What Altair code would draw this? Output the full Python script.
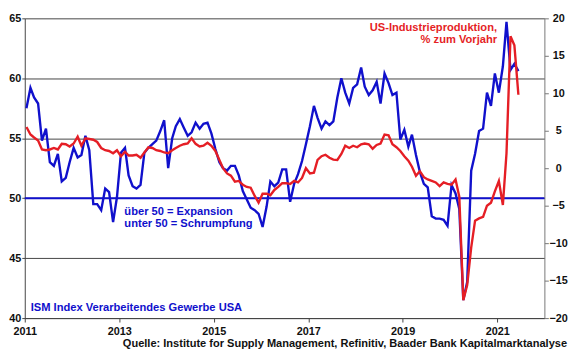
import altair as alt
import pandas as pd

# ISM Manufacturing PMI (left axis), monthly Jan 2011 - Jun 2021
ism_2011 = [57.5, 59.2, 58.4, 57.9, 54.8, 55.8, 53.0, 52.7, 53.7, 51.4, 51.7, 53.0]
ism_2012 = [54.2, 53.4, 53.6, 55.2, 54.0, 49.5, 49.5, 49.0, 50.8, 50.5, 48.0, 50.1]
ism_2013 = [53.8, 54.2, 51.9, 51.0, 50.8, 51.1, 53.8, 54.2, 54.5, 54.8, 55.6, 56.5]
ism_2014 = [52.5, 55.0, 56.0, 56.6, 55.9, 55.2, 55.5, 56.3, 55.8, 56.2, 56.3, 55.4]
ism_2015 = [54.1, 53.0, 52.5, 52.3, 52.7, 52.7, 51.9, 50.6, 49.9, 49.2, 49.0, 48.7]
ism_2016 = [47.6, 49.3, 51.4, 51.0, 51.3, 52.4, 52.4, 49.7, 51.2, 52.0, 53.1, 54.5]
ism_2017 = [56.0, 57.7, 56.7, 55.8, 56.4, 56.1, 56.4, 58.4, 60.0, 58.8, 57.9, 59.2]
ism_2018 = [59.5, 60.9, 59.3, 58.6, 59.0, 59.7, 57.9, 60.4, 59.6, 58.6, 58.8, 54.9]
ism_2019 = [55.7, 54.3, 55.3, 53.6, 52.2, 51.2, 50.9, 48.5, 48.3, 48.3, 48.2, 47.7]
ism_2020 = [51.1, 50.4, 49.1, 41.5, 43.0, 52.3, 53.7, 55.6, 55.8, 58.8, 57.7, 60.4]
ism_2021 = [58.8, 61.0, 64.7, 60.7, 61.2, 60.6]

# US industrial production, % y/y (right axis)
ip_2011 = [5.5, 4.5, 4.1, 3.7, 2.5, 2.4, 2.5, 2.7, 2.5, 3.25, 3.2, 2.9]
ip_2012 = [3.3, 4.2, 3.0, 4.0, 3.9, 3.8, 3.5, 2.7, 2.4, 2.3, 2.0, 2.4]
ip_2013 = [1.6, 2.2, 1.7, 1.7, 1.8, 1.4, 2.1, 2.8, 2.7, 2.4, 2.3, 2.1]
ip_2014 = [2.0, 2.4, 2.7, 3.0, 3.2, 3.3, 4.0, 3.25, 2.9, 3.0, 3.4, 3.0]
ip_2015 = [2.3, 1.1, 0.0, -0.7, -1.0, -1.8, -1.7, -2.2, -2.5, -2.6, -3.7, -4.6]
ip_2016 = [-3.4, -3.4, -3.6, -2.9, -2.5, -2.0, -2.0, -2.1, -1.7, -1.9, -1.3, 0.0]
ip_2017 = [-0.7, -0.6, 1.1, 1.6, 1.8, 1.4, 1.15, 1.1, 1.9, 3.0, 2.7, 3.0]
ip_2018 = [2.8, 3.2, 3.3, 3.2, 2.6, 3.1, 3.3, 4.5, 4.4, 3.2, 2.8, 2.3]
ip_2019 = [1.6, 1.0, 0.2, -1.0, -0.4, -1.2, -1.5, -1.7, -1.9, -2.4, -1.9, -2.1]
ip_2020 = [-2.2, -1.5, -3.8, -17.6, -15.6, -10.6, -7.0, -6.7, -6.5, -5.0, -4.6, -3.1]
ip_2021 = [-1.7, -4.9, 2.0, 17.6, 16.4, 9.8]

ism = ism_2011 + ism_2012 + ism_2013 + ism_2014 + ism_2015 + ism_2016 + ism_2017 + ism_2018 + ism_2019 + ism_2020 + ism_2021
ip = ip_2011 + ip_2012 + ip_2013 + ip_2014 + ip_2015 + ip_2016 + ip_2017 + ip_2018 + ip_2019 + ip_2020 + ip_2021

tick_years = [2011, 2013, 2015, 2017, 2019, 2021]
left_ticks = [40, 45, 50, 55, 60, 65]
right_ticks = [-20, -15, -10, -5, 0, 5, 10, 15, 20]

dates = (pd.date_range("2011-01-01", periods=len(ism), freq="MS") + pd.Timedelta(days=13)).strftime("%Y-%m-%d")
df = pd.DataFrame({"date": dates, "ism": ism, "ip": ip})

BLUE = "#1010CC"
RED = "#E51E25"
FONT = "Liberation Sans"

xenc = alt.X(
    "date:T",
    scale=alt.Scale(domain=[alt.DateTime(year=2011, month=1, date=1), alt.DateTime(year=2022, month=1, date=1)]),
    axis=alt.Axis(
        values=[alt.DateTime(year=y, month=1, date=1) for y in tick_years],
        format="%Y", title=None, grid=False, tickSize=4, labelPadding=4,
        labelBaseline="top", labelAlign="center", domainColor="#444", tickColor="#444",
    ),
)

blue_line = alt.Chart(df).mark_line(color=BLUE, strokeWidth=2.4).encode(
    x=xenc,
    y=alt.Y(
        "ism:Q",
        scale=alt.Scale(domain=[40, 65], nice=False, zero=False),
        axis=alt.Axis(
            values=left_ticks, title=None, grid=True, gridColor="#444", gridWidth=1,
            tickSize=3, labelPadding=1, domainColor="#444", tickColor="#444",
        ),
    ),
)

rule50 = alt.Chart(pd.DataFrame({"ism": [50]})).mark_rule(color=BLUE, strokeWidth=2).encode(
    y=alt.Y("ism:Q")
)

left_layer = alt.layer(rule50, blue_line)

red_line = alt.Chart(df).mark_line(color=RED, strokeWidth=2.4).encode(
    x=xenc,
    y=alt.Y(
        "ip:Q",
        scale=alt.Scale(domain=[-20, 20], nice=False, zero=False),
        axis=alt.Axis(
            orient="right", values=right_ticks, title=None, grid=False,
            tickSize=4, labelPadding=10, labelAlign="center",
            domainColor="#777", tickColor="#777",
        ),
    ),
)


def label(txt, x, y, color, align="left", size=11.3):
    return alt.Chart(pd.DataFrame({"t": [txt]})).mark_text(
        align=align, baseline="alphabetic", fontSize=size, fontWeight="bold",
        color=color, font=FONT,
    ).encode(text="t:N", x=alt.value(x), y=alt.value(y))


texts = [
    label("US-Industrieproduktion,", 479, 13, RED, "right"),
    label("% zum Vorjahr", 479, 25.5, RED, "right"),
    label("über 50 = Expansion", 101, 199.5, BLUE),
    label("unter 50 = Schrumpfung", 101, 212, BLUE),
    label("ISM Index Verarbeitendes Gewerbe USA", 6, 297, BLUE),
    label("Quelle: Institute for Supply Management, Refinitiv, Baader Bank Kapitalmarktanalyse", 550, 333.5, "#111", "right", 11.2),
]

chart = alt.layer(left_layer, red_line, *texts).resolve_scale(y="independent").properties(
    width=527, height=304,
    padding={"left": 17, "top": 8, "right": 28, "bottom": 39},
    autosize=alt.AutoSizeParams(type="none"),
    background="white",
).configure_view(stroke=None).configure_axis(
    labelFont=FONT, labelFontWeight="bold", labelFontSize=11, labelColor="#111",
)

chart.save("out.html", embed_options={"renderer": "svg", "actions": False})
